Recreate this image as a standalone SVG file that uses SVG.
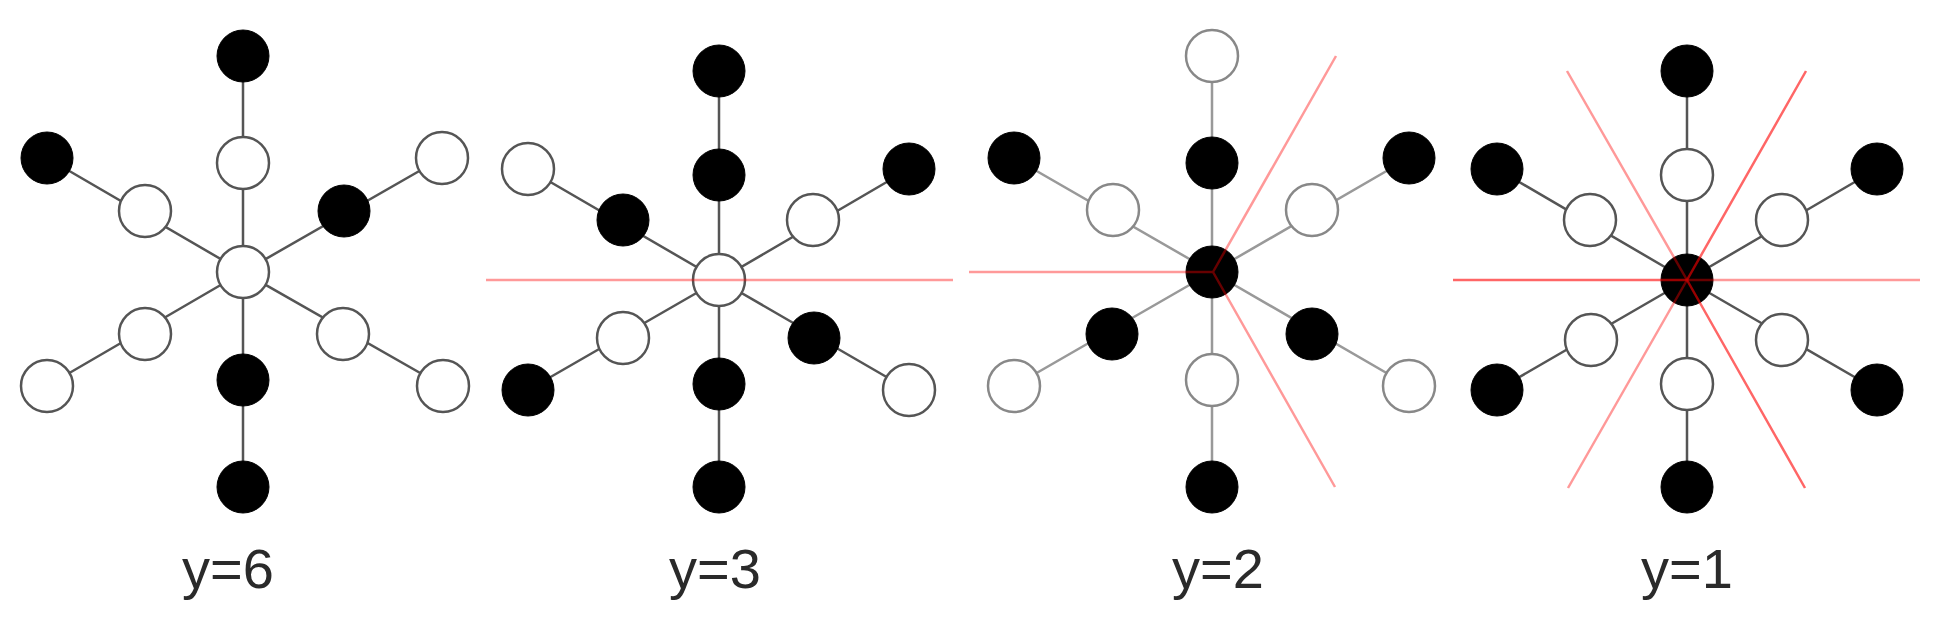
<svg xmlns="http://www.w3.org/2000/svg" width="1950" height="626" viewBox="0 0 1950 626">
<style>
.e{stroke:#555;stroke-width:2.5;fill:none}
.e3{stroke:#999;stroke-width:2.5;fill:none}
.w{fill:#fff;stroke:#555;stroke-width:2.5}
.w3{fill:#fff;stroke:#888;stroke-width:2.5}
.b{fill:#000;stroke:#000;stroke-width:1}
.r{stroke:#ff0000;stroke-opacity:0.4;stroke-width:2.5;fill:none}
.rd{stroke:#ff0000;stroke-opacity:0.6;stroke-width:2.5;fill:none}
.lbl{font-family:"Liberation Sans",Arial,sans-serif;font-size:56px;fill:#2a2a2a;text-anchor:middle}
</style>
<rect width="1950" height="626" fill="#fff"/>
<g id="connectors">
<path class="e" d="M243,272 L243,56 M243,272 L243,487 M243,272 L47,158 M243,272 L442,158 M243,272 L47,386 M243,272 L443,386"/>
<path class="e" d="M719,280 L719,71 M719,280 L719,487 M719,280 L528,169 M719,280 L909,169 M719,280 L528,390 M719,280 L909,390"/>
<path class="e3" d="M1212,272 L1212,56 M1212,272 L1212,487 M1212,272 L1014,158 M1212,272 L1409,158 M1212,272 L1014,386 M1212,272 L1409,386"/>
<path class="e" d="M1687,280 L1687,71 M1687,280 L1687,487 M1687,280 L1497,169 M1687,280 L1877,169 M1687,280 L1497,390 M1687,280 L1877,390"/>
</g>
<g id="panel1">
<circle id="p1c" class="w" cx="243" cy="272" r="26"/>
<circle id="p1t1" class="w" cx="243" cy="163" r="26"/>
<circle id="p1t2" class="b" cx="243" cy="56" r="26"/>
<circle id="p1ul1" class="w" cx="145" cy="211" r="26"/>
<circle id="p1ul2" class="b" cx="47" cy="158" r="26"/>
<circle id="p1ur1" class="b" cx="344" cy="211" r="26"/>
<circle id="p1ur2" class="w" cx="442" cy="158" r="26"/>
<circle id="p1ll1" class="w" cx="145" cy="334" r="26"/>
<circle id="p1ll2" class="w" cx="47" cy="386" r="26"/>
<circle id="p1lr1" class="w" cx="343" cy="334" r="26"/>
<circle id="p1lr2" class="w" cx="443" cy="386" r="26"/>
<circle id="p1b1" class="b" cx="243" cy="380" r="26"/>
<circle id="p1b2" class="b" cx="243" cy="487" r="26"/>
<text class="lbl" x="228" y="588">y=6</text>
</g>
<g id="panel2">
<circle id="p2c" class="w" cx="719" cy="280" r="26"/>
<circle id="p2t1" class="b" cx="719" cy="175" r="26"/>
<circle id="p2t2" class="b" cx="719" cy="71" r="26"/>
<circle id="p2ul1" class="b" cx="623" cy="220" r="26"/>
<circle id="p2ul2" class="w" cx="528" cy="169" r="26"/>
<circle id="p2ur1" class="w" cx="813" cy="220" r="26"/>
<circle id="p2ur2" class="b" cx="909" cy="169" r="26"/>
<circle id="p2ll1" class="w" cx="623" cy="338" r="26"/>
<circle id="p2ll2" class="b" cx="528" cy="390" r="26"/>
<circle id="p2lr1" class="b" cx="814" cy="338" r="26"/>
<circle id="p2lr2" class="w" cx="909" cy="390" r="26"/>
<circle id="p2b1" class="b" cx="719" cy="384" r="26"/>
<circle id="p2b2" class="b" cx="719" cy="487" r="26"/>
<text class="lbl" x="715" y="588">y=3</text>
</g>
<g id="panel3">
<circle id="p3c" class="b" cx="1212" cy="272" r="26"/>
<circle id="p3t1" class="b" cx="1212" cy="163" r="26"/>
<circle id="p3t2" class="w3" cx="1212" cy="56" r="26"/>
<circle id="p3ul1" class="w3" cx="1113" cy="210" r="26"/>
<circle id="p3ul2" class="b" cx="1014" cy="158" r="26"/>
<circle id="p3ur1" class="w3" cx="1312" cy="210" r="26"/>
<circle id="p3ur2" class="b" cx="1409" cy="158" r="26"/>
<circle id="p3ll1" class="b" cx="1112" cy="334" r="26"/>
<circle id="p3ll2" class="w3" cx="1014" cy="386" r="26"/>
<circle id="p3lr1" class="b" cx="1312" cy="334" r="26"/>
<circle id="p3lr2" class="w3" cx="1409" cy="386" r="26"/>
<circle id="p3b1" class="w3" cx="1212" cy="380" r="26"/>
<circle id="p3b2" class="b" cx="1212" cy="487" r="26"/>
<text class="lbl" x="1218" y="588">y=2</text>
</g>
<g id="panel4">
<circle id="p4c" class="b" cx="1687" cy="280" r="26"/>
<circle id="p4t1" class="w" cx="1687" cy="175" r="26"/>
<circle id="p4t2" class="b" cx="1687" cy="71" r="26"/>
<circle id="p4ul1" class="w" cx="1590" cy="220" r="26"/>
<circle id="p4ul2" class="b" cx="1497" cy="169" r="26"/>
<circle id="p4ur1" class="w" cx="1782" cy="220" r="26"/>
<circle id="p4ur2" class="b" cx="1877" cy="169" r="26"/>
<circle id="p4ll1" class="w" cx="1591" cy="340" r="26"/>
<circle id="p4ll2" class="b" cx="1497" cy="390" r="26"/>
<circle id="p4lr1" class="w" cx="1782" cy="340" r="26"/>
<circle id="p4lr2" class="b" cx="1877" cy="390" r="26"/>
<circle id="p4b1" class="w" cx="1687" cy="384" r="26"/>
<circle id="p4b2" class="b" cx="1687" cy="487" r="26"/>
<text class="lbl" x="1687" y="588">y=1</text>
</g>
<g id="symmetry-lines">
<path class="r" d="M486,280 L953,280"/>
<path class="r" d="M969,272 L1213,272 M1213,272 L1336,56 M1213,272 L1335,487"/>
<path class="rd" d="M1453,280 L1687,280 M1687,280 L1806,71 M1687,280 L1805,488"/>
<path class="r" d="M1687,280 L1920,280 M1687,280 L1567,71 M1687,280 L1568,488"/>
</g>
</svg>
